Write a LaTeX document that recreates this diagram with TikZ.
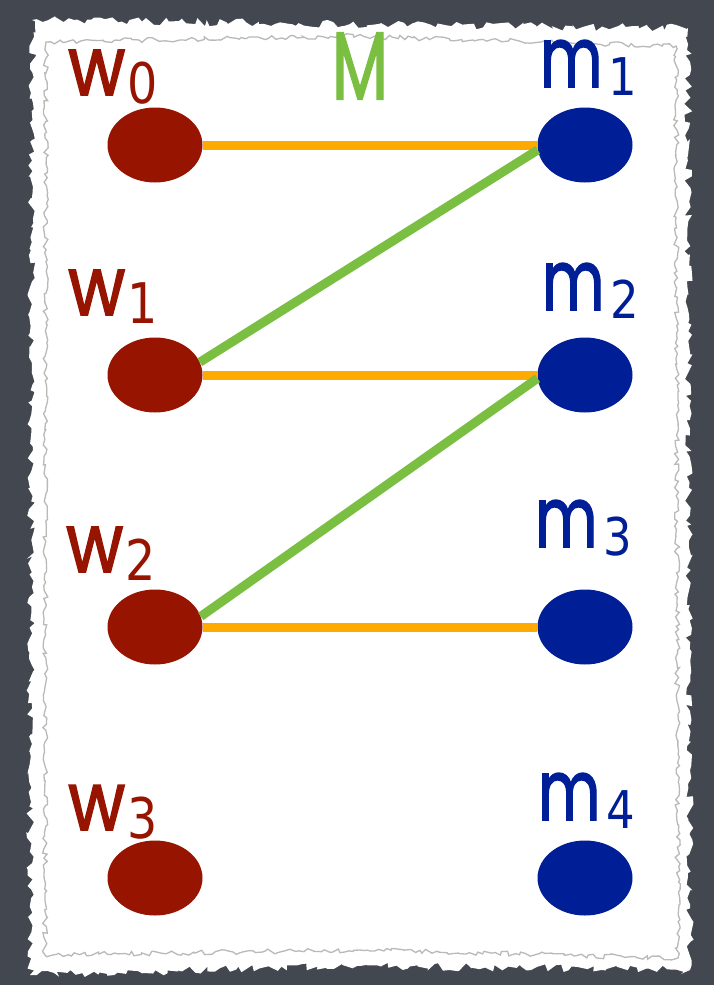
\documentclass[tikz,border=0pt]{standalone}
\usepackage{fontspec}
\setmainfont{Poppins}
\newfontfamily\labfont{Poppins}[FakeBold=2]
\newfontfamily\digfont{DejaVu Sans}
\usetikzlibrary{shapes.geometric,decorations.pathmorphing}
\definecolor{slate}{RGB}{66,71,80}
\definecolor{wred}{RGB}{150,20,0}
\definecolor{mblue}{RGB}{0,30,150}
\definecolor{edgeorange}{RGB}{255,170,0}
\definecolor{edgegreen}{RGB}{122,190,66}
\tikzset{
  wnode/.style={ellipse, fill=wred, minimum width=95pt, minimum height=75pt, inner sep=0pt},
  mnode/.style={ellipse, fill=mblue, minimum width=95pt, minimum height=75pt, inner sep=0pt},
  wlab/.style={text=wred, anchor=base west, inner sep=0pt, xscale=0.85, font=\labfont\fontsize{82}{82}\selectfont},
  mlab/.style={text=mblue, anchor=base west, inner sep=0pt, xscale=0.72, font=\labfont\fontsize{84}{84}\selectfont},
  oedge/.style={draw=edgeorange, line width=9pt},
  gedge/.style={draw=edgegreen, line width=9pt},
}
\newcommand{\subdig}[1]{\kern3pt\raisebox{-8pt}{\digfont\fontsize{56}{56}\selectfont #1}}
\newcommand{\subdigm}[1]{\kern8pt\raisebox{-8pt}{\scalebox{1.2}[1]{\digfont\fontsize{52}{52}\selectfont #1}}}
\begin{document}
\begin{tikzpicture}[x=1pt,y=-1pt]
\useasboundingbox (0,0) rectangle (714,985);
\fill[slate] (0,0) rectangle (714,985);
\pgfmathsetseed{7}
\fill[white, decorate, decoration={random steps, segment length=5pt, amplitude=4pt}]
  (32,20) -- (350,24) -- (688,28) -- (690,970) -- (360,966) -- (30,975) -- cycle;
\draw[gray!55, line width=1.3pt, decorate, decoration={random steps, segment length=4pt, amplitude=2.5pt}]
  (46,42) -- (340,36) -- (676,46) -- (678,958) -- (360,950) -- (45,955) -- cycle;

% nodes
\node[wnode] (w0) at (155,145) {};
\node[wnode] (w1) at (155,375) {};
\node[wnode] (w2) at (155,627) {};
\node[wnode] (w3) at (155,878) {};
\node[mnode] (m1) at (585,145) {};
\node[mnode] (m2) at (585,375) {};
\node[mnode] (m3) at (585,627) {};
\node[mnode] (m4) at (585,878) {};

% labels
\node[wlab] (lw0) at (68,95) {w\subdig{0}};
\node[wlab] (lw1) at (68,315) {w\subdig{1}};
\node[wlab] (lw2) at (66,572) {w\subdig{2}};
\node[wlab] (lw3) at (68,830) {w\subdig{3}};
\node[mlab] (lm1) at (540,87) {m\subdigm{1}};
\node[mlab] (lm2) at (542,310) {m\subdigm{2}};
\node[mlab] (lm3) at (535,547) {m\subdigm{3}};
\node[mlab] (lm4) at (538,820) {m\subdigm{4}};
\node[text=edgegreen, inner sep=0pt, xscale=0.68, font=\labfont\fontsize{96}{96}\selectfont] (M) at (360,66) {M};

% edges
\draw[oedge] (w0) -- (m1);
\draw[oedge] (w1) -- (m2);
\draw[oedge] (w2) -- (m3);
\draw[gedge] (w1.16) -- (m1.186);
\draw[gedge] (w2.13) -- (m2.184);
\end{tikzpicture}
\end{document}
